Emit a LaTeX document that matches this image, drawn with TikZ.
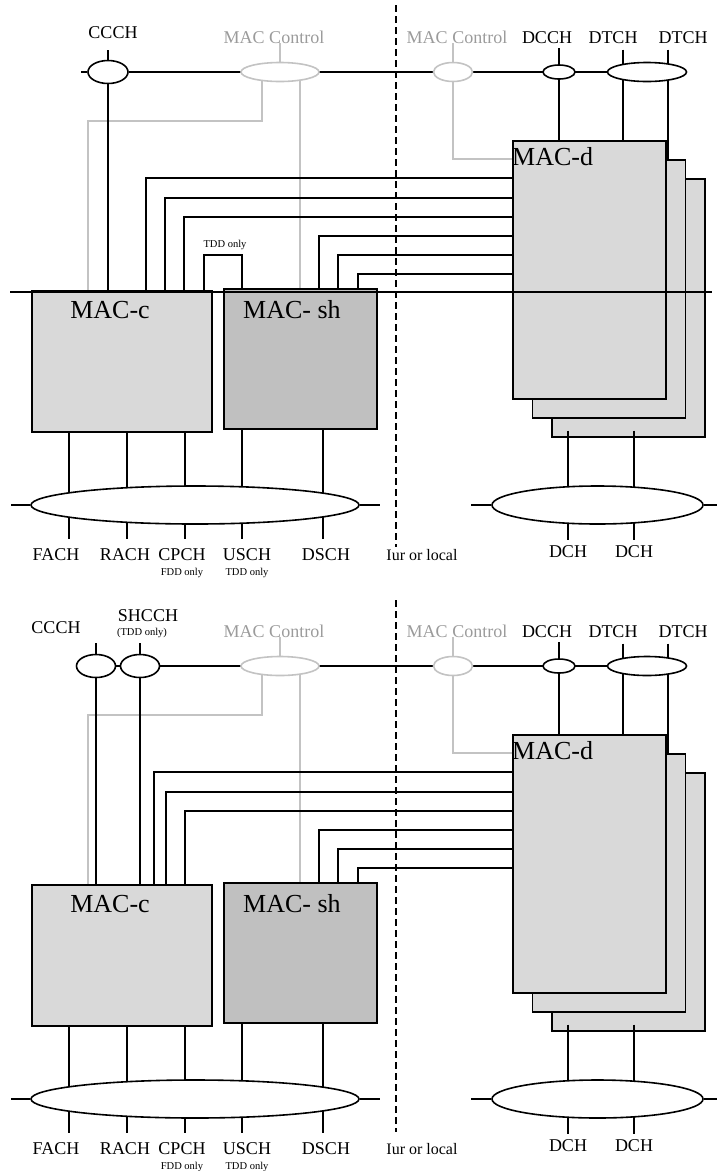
\documentclass[tikz,border=0pt]{standalone}
\usepackage{fontspec}
\setmainfont{Liberation Serif}
\usetikzlibrary{shapes.geometric,backgrounds}
\definecolor{ctrlgray}{RGB}{195,195,195}
\definecolor{ctrltext}{RGB}{155,155,155}
\definecolor{macfill}{RGB}{217,217,217}
\definecolor{shfill}{RGB}{192,192,192}
\tikzset{
  chan/.style     = {draw, ellipse, fill=white, line width=1.6pt, inner sep=0pt},
  ctrl/.style     = {chan, draw=ctrlgray},
  macbox/.style   = {draw, rectangle, line width=1.5pt, fill=macfill,
                     anchor=north west, inner sep=0pt},
  wire/.style     = {line width=1.7pt},
  tap/.style      = {line width=1.2pt},
  ctrlwire/.style = {draw=ctrlgray, line width=1.7pt},
  lab/.style      = {font=\fontsize{18}{20}\selectfont, anchor=base, inner sep=0pt},
  ctrllab/.style  = {lab, text=ctrltext},
  maclab/.style   = {font=\fontsize{26}{28}\selectfont, anchor=base, inner sep=0pt},
  note/.style     = {font=\fontsize{10.5}{12}\selectfont, anchor=base, inner sep=0pt},
  border/.style   = {line width=1.5pt, dash pattern=on 7pt off 4pt}
}

\begin{document}
\begin{tikzpicture}[x=1pt, y=-1pt]
\useasboundingbox (0,0) rectangle (717,1171);

% both halves share the MAC-d / MAC-c / MAC-sh part
\foreach \p/\oy/\ds/\de/\xa/\xb/\xc in {t/0/5/547/146/165/184, b/594/6/538/154/166/185} {
\begin{scope}[yshift=-\oy pt]
  % MAC-d stack
  \node[macbox, minimum width=153pt, minimum height=258pt] (\p macdc) at (551,178) {};
  \node[macbox, minimum width=153pt, minimum height=258pt] (\p macdb) at (531.5,159) {};
  \node[macbox, minimum width=153pt, minimum height=258pt] (\p macd) at (512,140) {};
  \node[maclab, anchor=base west] (\p macdlab) at (512,165) {MAC-d};
  \foreach \x in {568,634}
    \draw[tap] (\p macdc.south -| \x,0) ++(0,-7) -- ++(0,109);

  % MAC-c and MAC-sh
  \node[macbox, minimum width=180pt, minimum height=141pt] (\p macc) at (31,290) {};
  \node[macbox, fill=shfill, minimum width=153pt, minimum height=140pt] (\p macsh) at (223,288) {};
  \node[maclab] (\p macclab) at (110,318) {MAC-c};
  \node[maclab] (\p macshlab) at (292,318) {MAC- sh};
  \foreach \x in {69,127,185}
    \draw[tap] (\p macc.south -| \x,0) -- ++(0,106);
  \foreach \x in {242,323}
    \draw[tap] (\p macsh.south -| \x,0) -- ++(0,109);

  % logical channels
  \node[ctrl, minimum width=78pt, minimum height=19pt] (\p ctl) at (280,72) {};
  \node[ctrl, minimum width=39pt, minimum height=19pt] (\p ctlr) at (453,72) {};
  \node[chan, minimum width=32pt, minimum height=14pt] (\p dcch) at (559,72) {};
  \node[chan, minimum width=79pt, minimum height=19pt] (\p dtch) at (647,72) {};
  \node[ctrllab] (\p ctllab) at (274,43) {MAC Control};
  \node[ctrllab] (\p ctlrlab) at (457,43) {MAC Control};
  \node[lab] (\p dcchlab) at (547,43) {DCCH};
  \node[lab] (\p dtchlab) at (613,43) {DTCH};
  \node[lab] (\p dtchlabb) at (683,43) {DTCH};

  % transport channels
  \node[chan, minimum width=328pt, minimum height=38pt] (\p bus) at (195,505) {};
  \node[chan, minimum width=211pt, minimum height=38pt] (\p busd) at (597.5,505) {};
  \draw[tap] (\p bus.west) -- ++(-19,0) (\p bus.east) -- ++(20,0);
  \draw[tap] (\p busd.west) -- ++(-20,0) (\p busd.east) -- ++(14,0);
  \node[lab] (\p fach) at (56,560) {FACH};
  \node[lab] (\p rach) at (125,560) {RACH};
  \node[lab] (\p cpch) at (182,560) {CPCH};
  \node[lab] (\p usch) at (247,560) {USCH};
  \node[lab] (\p dsch) at (326,560) {DSCH};
  \node[lab, font=\fontsize{16}{18}\selectfont] (\p iur) at (422,560) {Iur or local};
  \node[note] (\p fdd) at (182,575) {FDD only};
  \node[note] (\p tdd) at (247,575) {TDD only};
  \node[lab] (\p dcha) at (568,557) {DCH};
  \node[lab] (\p dchb) at (634,557) {DCH};

  \begin{scope}[on background layer]
    \draw[wire] (\p dcch.north) ++(0,-16) -- (\p dcch |- \p macd.north);
    \draw[wire] (\p dtch.north -| 623,0) ++(0,-12) -- (\p macd.north -| 623,0);
    \draw[wire] (\p dtch.north -| 668,0) ++(0,-12) -- (\p macdb.north -| 668,0);
    \draw[ctrlwire] (\p ctl.north) -- (\p ctl.north |- \p ctllab.base);
    \draw[ctrlwire] (\p ctl -| 262,0) -- ++(0,49) -| (\p macc.north -| 88,0);
    \draw[ctrlwire] (\p ctl -| 300,0) -- (\p macsh.north -| 300,0);
    \draw[ctrlwire] (\p ctlr.north) -- (\p ctlr.north |- \p ctlrlab.base);
    \draw[ctrlwire] (\p ctlr) |- (\p macd.west |- 0,159);
    \foreach \x/\y in {\xa/178, \xb/198, \xc/217}
      \draw[wire] (\p macc.north -| \x,0) |- (\p macd.west |- 0,\y);
    \foreach \x/\y in {319/236, 338/255, 358/274}
      \draw[wire] (\p macsh.north -| \x,0) |- (\p macd.west |- 0,\y);
  \end{scope}

  \draw[border] (396,\ds) -- (396,\de);
\end{scope}
}

% upper half: CCCH only
\node[chan, minimum width=40pt, minimum height=23pt] (tccch) at (108,72) {};
\node[lab] (tccchlab) at (113,38) {CCCH};
\node[note] (ttddbox) at (225,247) {TDD only};
\begin{scope}[on background layer]
  \draw[wire] (tccch) -- (tdtch);
  \draw[wire] (tccch) -- (tccch |- tmacc.north);
\end{scope}
\draw[wire] (tccch.north) -- ++(0,-10);
\draw[wire] (tccch.west) -- ++(-6,0);
\draw[wire] (tmacc.north -| 204,0) -- ++(0,-35) -| (tmacsh.north -| 242,0);
\coordinate (tcutl) at (10,292);
\coordinate (tcutr) at (712,292);
\draw[line width=2pt] (tcutl) -- (tcutr);

% lower half: CCCH and SHCCH
\begin{scope}[yshift=-594pt]
  \node[chan, minimum width=39pt, minimum height=23pt] (bccch) at (96,72) {};
  \node[chan, minimum width=39pt, minimum height=23pt] (bshcch) at (140,72) {};
  \node[lab] (bccchlab) at (56,39) {CCCH};
  \node[lab] (bshcchlab) at (148,27) {SHCCH};
  \node[note] (bshcchnote) at (142,41) {(TDD only)};
  \begin{scope}[on background layer]
    \draw[wire] (bccch) -- (bdtch);
    \draw[wire] (bccch) -- (bccch |- bmacc.north);
    \draw[wire] (bshcch) -- (bshcch |- bmacc.north);
  \end{scope}
  \draw[wire] (bccch.north) -- ++(0,-11);
  \draw[wire] (bshcch.north) -- ++(0,-11);
\end{scope}
\end{tikzpicture}
\end{document}
